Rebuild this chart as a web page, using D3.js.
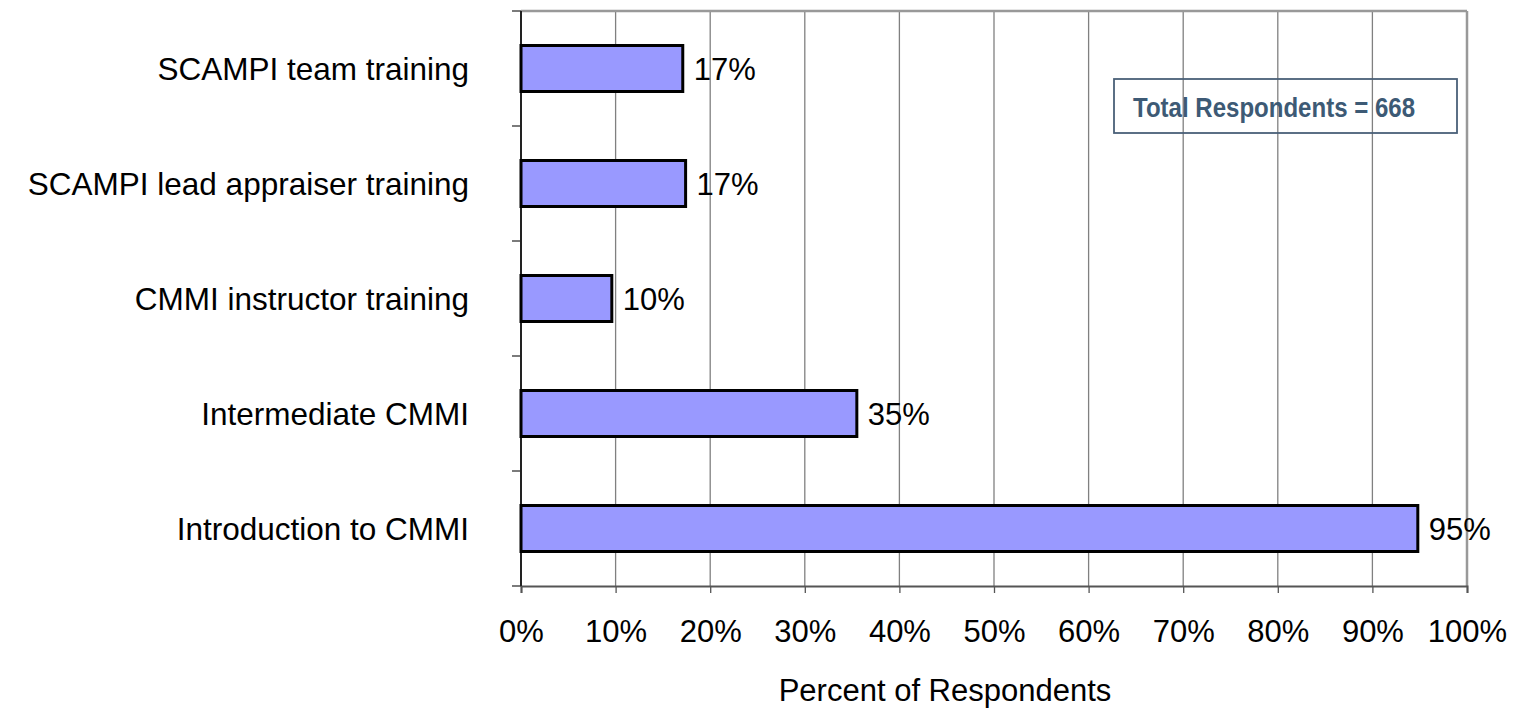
<!DOCTYPE html>
<html><head><meta charset="utf-8">
<script src="https://cdn.jsdelivr.net/npm/d3@7"></script>
<style>body{margin:0;background:#fff}svg{display:block}text{font-family:"Liberation Sans",Arial,sans-serif}</style>
</head><body><svg id="c" width="1522" height="709"></svg>
<script>
const categories = ["SCAMPI team training","SCAMPI lead appraiser training","CMMI instructor training","Intermediate CMMI","Introduction to CMMI"];
const values = [0.171, 0.174, 0.096, 0.355, 0.948];
const valueLabels = ["17%","17%","10%","35%","95%"];
const tickValues = [0,0.1,0.2,0.3,0.4,0.5,0.6,0.7,0.8,0.9,1.0];
const note = "Total Respondents = 668";
const axisTitle = "Percent of Respondents";

const svg = d3.select("#c");
const L=521, R=1467, T=11, B=586;
const FS = 31;
const x = d3.scaleLinear().domain([0,1]).range([L,R]);
const y = d3.scaleBand().domain(categories).range([T,B]).paddingInner(0.6).paddingOuter(0.3);

// gridlines
svg.append("g").selectAll("line").data(tickValues.slice(1,-1)).join("line")
  .attr("x1",d=>x(d)).attr("x2",d=>x(d)).attr("y1",T).attr("y2",B)
  .attr("stroke","#808080").attr("stroke-width",1.3);
// top & right frame
svg.append("line").attr("x1",L).attr("x2",R).attr("y1",T).attr("y2",T).attr("stroke","#999").attr("stroke-width",2.5);
svg.append("line").attr("x1",R).attr("x2",R).attr("y1",T).attr("y2",B).attr("stroke","#999").attr("stroke-width",2.5);

// x axis
const xa = svg.append("g").attr("transform",`translate(0,${B})`)
  .call(d3.axisBottom(x).tickValues(tickValues).tickFormat(d3.format(".0%")).tickSize(7).tickPadding(27));
xa.select(".domain").attr("stroke","#555").attr("stroke-width",2);
xa.selectAll(".tick line").attr("stroke","#555").attr("stroke-width",1.3);
xa.selectAll("text").attr("font-size",FS).attr("fill","#000").attr("font-family","Liberation Sans, Arial, sans-serif");

// y axis ticks at band boundaries
const bounds = [T, ...categories.map((c,i)=>T + (i+1)*(B-T)/categories.length)];
svg.append("g").selectAll("line").data(bounds).join("line")
  .attr("x1",L-9).attr("x2",L).attr("y1",d=>d).attr("y2",d=>d).attr("stroke","#333").attr("stroke-width",1.3);
svg.append("line").attr("x1",L).attr("x2",L).attr("y1",T).attr("y2",B).attr("stroke","#222").attr("stroke-width",2);

// bars
svg.append("g").selectAll("rect").data(categories).join("rect")
  .attr("x",x(0)).attr("y",d=>y(d)).attr("width",(d,i)=>x(values[i])-x(0)).attr("height",y.bandwidth())
  .attr("fill","#9999FF").attr("stroke","#000").attr("stroke-width",3);

// value labels
svg.append("g").selectAll("text").data(categories).join("text")
  .attr("x",(d,i)=>x(values[i])+11).attr("y",d=>y(d)+y.bandwidth()/2).attr("dy","0.36em")
  .attr("font-size",FS).attr("fill","#000").text((d,i)=>valueLabels[i]);

// category labels
svg.append("g").selectAll("text").data(categories).join("text")
  .attr("x",469).attr("y",d=>y(d)+y.bandwidth()/2).attr("dy","0.36em").attr("text-anchor","end")
  .attr("font-size",FS+0.5).attr("fill","#000").text(d=>d);

// axis title
svg.append("text").attr("x",945).attr("y",690).attr("dy","0.36em").attr("text-anchor","middle")
  .attr("font-size",FS).attr("fill","#000").text(axisTitle);

// note box
svg.append("rect").attr("x",1114).attr("y",79).attr("width",343).attr("height",54)
  .attr("fill","none").attr("stroke","#4a6078").attr("stroke-width",1.8);
svg.append("text").attr("x",1133).attr("y",107).attr("dy","0.36em")
  .attr("font-weight","bold").attr("textLength",282).attr("lengthAdjust","spacingAndGlyphs")
  .attr("font-size",28).attr("fill","#3d5a75").text(note);
</script></body></html>
